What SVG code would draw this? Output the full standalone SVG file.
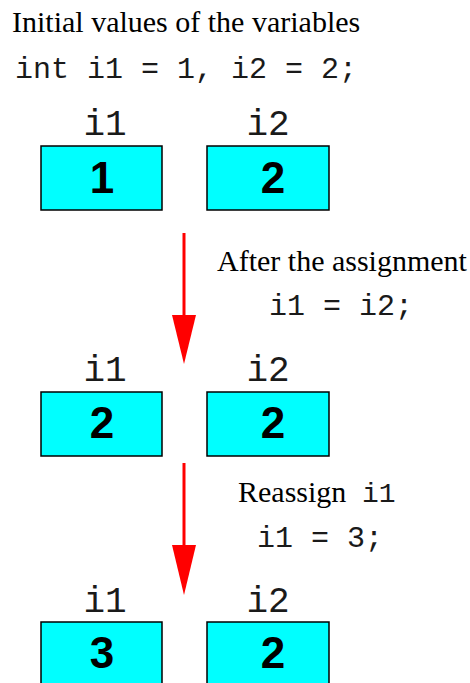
<svg xmlns="http://www.w3.org/2000/svg" width="470" height="683" viewBox="0 0 470 683">
<style>
.serif{font-family:"Liberation Serif","Times New Roman",serif;font-size:30px;fill:#000}
.mono{font-family:"Liberation Mono","Courier New",monospace;fill:#1a1a1a}
.code{font-size:30px}
.lbl{font-size:36px;text-anchor:middle}
.box{fill:#00ffff;stroke:#000;stroke-width:1.5}
.val{font-family:"Liberation Sans",Arial,sans-serif;font-weight:bold;font-size:44px;text-anchor:middle;fill:#000}
.arr{stroke:#ff0000;stroke-width:3;fill:none}
.head{fill:#ff0000}
</style>
<rect width="470" height="683" fill="#fff"/>
<g id="title">
<text class="serif" x="12" y="32">Initial values of the variables</text>
<text class="mono code" x="15" y="78">int i1 = 1, i2 = 2;</text>
</g>
<g id="row1-i1">
<text class="mono lbl" x="105" y="135">i1</text>
<rect class="box" x="41" y="146" width="121" height="64"/>
<text class="val" x="102" y="193">1</text>
</g>
<g id="row1-i2">
<text class="mono lbl" x="268" y="135">i2</text>
<rect class="box" x="207" y="146" width="122" height="64"/>
<text class="val" x="273" y="193">2</text>
</g>
<g id="step1">
<text class="serif" x="217" y="271">After the assignment</text>
<text class="mono code" x="269" y="315">i1 = i2;</text>
</g>
<g id="row2-i1">
<text class="mono lbl" x="105" y="381">i1</text>
<rect class="box" x="41" y="392" width="121" height="64"/>
<text class="val" x="102" y="438">2</text>
</g>
<g id="row2-i2">
<text class="mono lbl" x="268" y="381">i2</text>
<rect class="box" x="207" y="392" width="122" height="64"/>
<text class="val" x="273" y="438">2</text>
</g>
<g id="step2">
<text class="serif" x="238" y="502">Reassign <tspan class="mono" x="362" font-size="28">i1</tspan></text>
<text class="mono code" x="257" y="547">i1 = 3;</text>
</g>
<g id="row3-i1">
<text class="mono lbl" x="105" y="612">i1</text>
<rect class="box" x="41" y="622" width="121" height="64"/>
<text class="val" x="102" y="668">3</text>
</g>
<g id="row3-i2">
<text class="mono lbl" x="268" y="612">i2</text>
<rect class="box" x="207" y="622" width="122" height="64"/>
<text class="val" x="273" y="668">2</text>
</g>
<g id="connectors">
<line class="arr" x1="184" y1="233" x2="184" y2="318"/>
<polygon class="head" points="172,315 196,315 184,364"/>
<line class="arr" x1="184" y1="463" x2="184" y2="548"/>
<polygon class="head" points="172,545 196,545 184,595"/>
</g>
</svg>
